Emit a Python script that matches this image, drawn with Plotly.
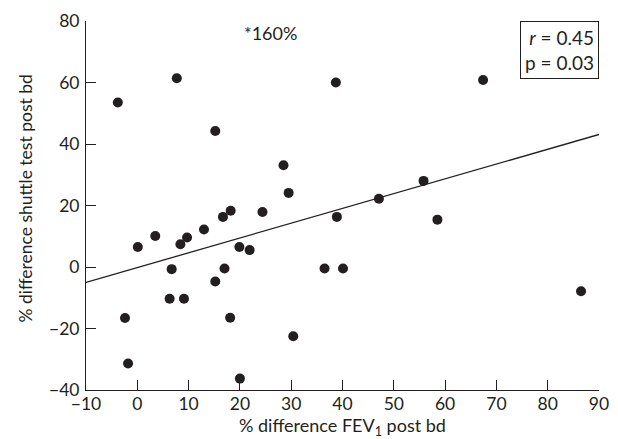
import plotly.graph_objects as go

# % difference FEV1 post bd
fev1_diff = [-3.8, 7.7, 15.2, 38.7, 67.4, 28.5, 29.5, 55.8, 47.1,
             0.1, 3.5, 8.4, 9.7, 13.0, 16.7, 18.2, 24.4, 38.9, 58.5,
             19.9, 21.9, 6.7, 17.0, 15.2, 6.3, 9.1, 36.5, 40.1,
             -2.4, 18.1, -1.8, 20.0, 30.4, 86.5]
# % difference shuttle test post bd
shuttle_diff = [53.5, 61.4, 44.2, 60.0, 60.8, 33.1, 24.1, 28.0, 22.2,
                6.5, 10.1, 7.4, 9.6, 12.2, 16.3, 18.3, 17.9, 16.3, 15.4,
                6.5, 5.5, -0.7, -0.5, -4.7, -10.3, -10.3, -0.5, -0.5,
                -16.6, -16.5, -31.4, -36.3, -22.5, -7.9]

# regression line end points
line_x = [-10, 90]
line_y = [-5.0, 43.1]

x_ticks = [-10, 0, 10, 20, 30, 40, 50, 60, 70, 80, 90]
y_ticks = [-40, -20, 0, 20, 40, 60, 80]

FONT = "Lato"
TXT = "#231f20"

fig = go.Figure()
fig.add_trace(go.Scatter(x=line_x, y=line_y, mode="lines",
                         line=dict(color=TXT, width=1.3), showlegend=False,
                         hoverinfo="skip"))
fig.add_trace(go.Scatter(x=fev1_diff, y=shuttle_diff, mode="markers",
                         marker=dict(color=TXT, size=10), showlegend=False))

axis_common = dict(showline=True, linecolor=TXT, linewidth=1.1,
                   ticks="inside", ticklen=10, tickwidth=1.1, tickcolor=TXT,
                   showgrid=False, zeroline=False, automargin=False,
                   tickfont=dict(family=FONT, size=17.5, color=TXT))

fig.update_xaxes(range=[-10, 90], tickvals=x_ticks, **axis_common,
                 ticklabelstandoff=-2)
fig.update_yaxes(range=[-40, 80], tickvals=y_ticks, **axis_common,
                 ticklabelstandoff=2)

# axis titles (placed as paper annotations for exact positioning)
fig.add_annotation(x=0.5, y=-0.1, xref="paper", yref="paper",
                   xanchor="center", yanchor="middle", showarrow=False,
                   text="% difference FEV<sub>1</sub> post bd",
                   font=dict(family=FONT, size=18, color=TXT))
fig.add_annotation(x=-0.118, y=0.52, xref="paper", yref="paper",
                   xanchor="center", yanchor="middle", showarrow=False,
                   textangle=-90,
                   text="% difference shuttle test post bd",
                   font=dict(family=FONT, size=17.5, color=TXT))

fig.add_annotation(x=26, y=76.2, xref="x", yref="y", text="*160%",
                   showarrow=False, font=dict(family=FONT, size=18, color=TXT))
fig.add_annotation(x=1.0, y=1.0, xref="paper", yref="paper",
                   xanchor="right", yanchor="top", align="right",
                   text="<i>r</i> = 0.45<br>p = 0.03", showarrow=False,
                   bordercolor=TXT, borderwidth=1, borderpad=4,
                   bgcolor="white",
                   font=dict(family=FONT, size=19, color=TXT))

fig.update_layout(width=610, height=431,
                  margin=dict(l=78, r=19, t=13, b=49),
                  paper_bgcolor="white", plot_bgcolor="white")

fig.write_html("out.html")
